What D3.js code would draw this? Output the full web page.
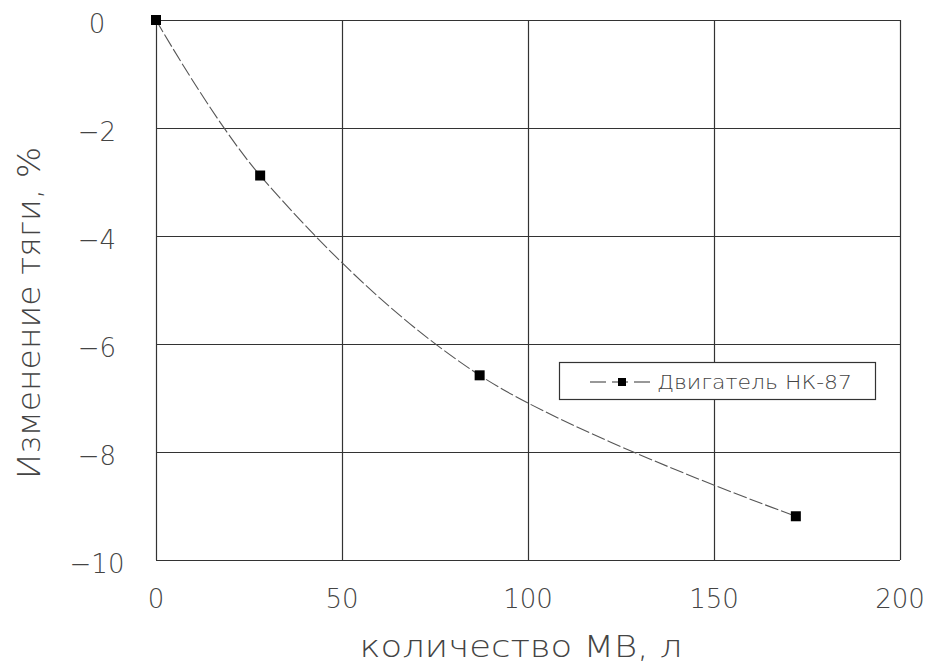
<!DOCTYPE html>
<html>
<head>
<meta charset="utf-8">
<script src="https://cdn.jsdelivr.net/npm/d3@7"></script>
<style>
  body { margin: 0; background: #fff; }
  svg text { font-family: "DejaVu Sans", sans-serif; font-weight: 200; fill: #444; }
</style>
</head>
<body>
<svg id="chart" width="930" height="666"></svg>
<script>
// data
let volume = [0, 28, 87, 172]
let thrustChange = [0, -2.88, -6.58, -9.19]
let xTicks = [0, 50, 100, 150, 200]
let yTicks = [0, -2, -4, -6, -8, -10]
let seriesName = "Двигатель НК-87"
let xTitle = "количество МВ, л"
let yTitle = "Изменение тяги, %"

let svg = d3.select("#chart")

let plotLeft = 156, plotRight = 900, plotTop = 20, plotBottom = 560

let x = d3.scaleLinear().domain([0, 200]).range([plotLeft, plotRight])
let y = d3.scaleLinear().domain([-10, 0]).range([plotBottom, plotTop])

let points = volume.map((v, i) => ({ x: v, y: thrustChange[i] }))

// grid
let grid = svg.append("g")
grid.selectAll("line.v")
    .data(xTicks)
    .enter().append("line")
    .attr("x1", (d) => Math.round(x(d)) + 0.5)
    .attr("x2", (d) => Math.round(x(d)) + 0.5)
    .attr("y1", plotTop)
    .attr("y2", plotBottom)
    .attr("stroke", "#333")
    .attr("stroke-width", 1.2)
grid.selectAll("line.h")
    .data(yTicks)
    .enter().append("line")
    .attr("x1", plotLeft)
    .attr("x2", plotRight)
    .attr("y1", (d) => Math.round(y(d)) + 0.5)
    .attr("y2", (d) => Math.round(y(d)) + 0.5)
    .attr("stroke", "#333")
    .attr("stroke-width", 1.2)

// tick labels
svg.append("g").selectAll("text")
    .data(xTicks)
    .enter().append("text")
    .attr("x", (d) => x(d))
    .attr("y", 608)
    .attr("text-anchor", "middle")
    .style("font-size", "26px")
    .text((d) => d)

svg.append("g").selectAll("text")
    .data(yTicks)
    .enter().append("text")
    .attr("x", 97)
    .attr("y", (d) => y(d) + 13)
    .attr("text-anchor", "middle")
    .style("font-size", "26px")
    .text((d) => d === 0 ? "0" : "\u2212" + Math.abs(d))

// axis titles
svg.append("text")
    .attr("x", 521)
    .attr("y", 657)
    .attr("text-anchor", "middle")
    .attr("textLength", 323)
    .attr("lengthAdjust", "spacingAndGlyphs")
    .style("font-size", "31px")
    .text(xTitle)

svg.append("text")
    .attr("transform", "translate(40," + 313 + ") rotate(-90)")
    .attr("text-anchor", "middle")
    .attr("textLength", 332)
    .attr("lengthAdjust", "spacingAndGlyphs")
    .style("font-size", "32px")
    .text(yTitle)

// curve
let line = d3.line()
    .x((p) => x(p.x))
    .y((p) => y(p.y))
    .curve(d3.curveCatmullRom.alpha(0.5))

svg.append("path")
    .attr("d", line(points))
    .attr("fill", "none")
    .attr("stroke", "#555")
    .attr("stroke-width", 1.1)
    .attr("stroke-dasharray", "14,3")

svg.append("g").selectAll("rect")
    .data(points)
    .enter().append("rect")
    .attr("x", (p) => x(p.x) - 5)
    .attr("y", (p) => y(p.y) - 5)
    .attr("width", 10)
    .attr("height", 10)
    .attr("fill", "#000")

// legend
let legend = svg.append("g")
legend.append("rect")
    .attr("x", 559.5)
    .attr("y", 362.5)
    .attr("width", 316)
    .attr("height", 37)
    .attr("fill", "#fff")
    .attr("stroke", "#333")
    .attr("stroke-width", 1.2)
legend.append("line")
    .attr("x1", 590).attr("x2", 653)
    .attr("y1", 382).attr("y2", 382)
    .attr("stroke", "#333")
    .attr("stroke-width", 1.2)
    .attr("stroke-dasharray", "16,6")
legend.append("rect")
    .attr("x", 618).attr("y", 378)
    .attr("width", 8).attr("height", 8)
    .attr("fill", "#000")
legend.append("text")
    .attr("x", 657)
    .attr("y", 389)
    .attr("textLength", 195)
    .attr("lengthAdjust", "spacingAndGlyphs")
    .style("font-size", "19px")
    .text(seriesName)
</script>
</body>
</html>
